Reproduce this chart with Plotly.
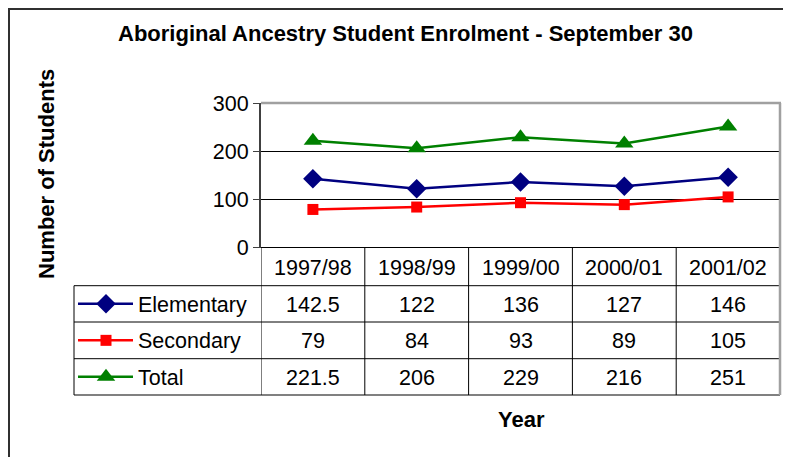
import plotly.graph_objects as go

years = ["1997/98", "1998/99", "1999/00", "2000/01", "2001/02"]
elementary = [142.5, 122, 136, 127, 146]
secondary = [79, 84, 93, 89, 105]
total = [221.5, 206, 229, 216, 251]

series_names = ["Elementary", "Secondary", "Total"]
series_values = [elementary, secondary, total]
series_colors = ["#000080", "#ff0000", "#008000"]
series_symbols = ["diamond", "square", "triangle-up"]
series_sizes = [15, 11, 16]

FONT = "Liberation Sans, Arial, sans-serif"

# the page body adds an 8px margin, so the figure is drawn 8px in from the window
OFF = 8
FW, FH = 791 - OFF, 457 - OFF


def px_x(x):
    return (x - OFF) / FW


def px_y(y):
    return 1 - (y - OFF) / FH


# plot area in window pixels
PL, PR, PT, PB = 261, 780, 103, 247.5
row_edges = [PB, 285.7, 322, 358.7, 395]
TABLE_LEFT = 74

fig = go.Figure()

for name, vals, col, sym, size in zip(series_names, series_values, series_colors,
                                      series_symbols, series_sizes):
    fig.add_trace(go.Scatter(
        x=years, y=vals, name=name, mode="lines+markers",
        line=dict(color=col, width=2.5),
        marker=dict(symbol=sym, size=size, color=col),
        cliponaxis=False, showlegend=False,
    ))

# legend keys inside the data table (pixel overlay axes)
for i, (col, sym, size) in enumerate(zip(series_colors, series_symbols, series_sizes)):
    yc = (row_edges[i + 1] + row_edges[i + 2]) / 2
    fig.add_trace(go.Scatter(
        x=[78, 106, 133], y=[yc, yc, yc], xaxis="x2", yaxis="y2",
        mode="lines", line=dict(color=col, width=2.5),
        hoverinfo="skip", showlegend=False,
    ))
    fig.add_trace(go.Scatter(
        x=[106], y=[yc], xaxis="x2", yaxis="y2",
        mode="markers", marker=dict(symbol=sym, size=size, color=col),
        hoverinfo="skip", showlegend=False,
    ))

shapes = []
line_black = dict(color="black", width=1)
# horizontal table lines
for y in row_edges[1:-1]:
    shapes.append(dict(type="line", xref="paper", yref="paper",
                       x0=px_x(TABLE_LEFT), x1=px_x(PR), y0=px_y(y), y1=px_y(y), line=line_black))
shapes.append(dict(type="line", xref="paper", yref="paper",
                   x0=px_x(TABLE_LEFT), x1=px_x(PR), y0=px_y(row_edges[-1]), y1=px_y(row_edges[-1]),
                   line=dict(color="#808080", width=2)))
shapes.append(dict(type="line", xref="paper", yref="paper",
                   x0=px_x(PL), x1=px_x(PR), y0=px_y(PB), y1=px_y(PB), line=line_black))
# vertical table lines at category boundaries
for i in range(len(years)):
    shapes.append(dict(type="line", xref="x", yref="paper",
                       x0=i - 0.5, x1=i - 0.5, y0=px_y(PB), y1=px_y(row_edges[-1]), line=line_black))
shapes.append(dict(type="line", xref="paper", yref="paper",
                   x0=px_x(TABLE_LEFT), x1=px_x(TABLE_LEFT), y0=px_y(row_edges[1]),
                   y1=px_y(row_edges[-1]), line=line_black))
# plot area border (gray top & right, continuing down the table)
shapes.append(dict(type="line", xref="paper", yref="paper",
                   x0=px_x(PL), x1=px_x(PR + 1), y0=px_y(PT), y1=px_y(PT),
                   line=dict(color="#a0a0a0", width=2.5)))
shapes.append(dict(type="line", xref="paper", yref="paper",
                   x0=px_x(PR), x1=px_x(PR), y0=px_y(PT), y1=px_y(row_edges[-1]),
                   line=dict(color="#a0a0a0", width=2.5)))
# outer chart frame (top edge pushed down to stay inside the figure)
shapes.append(dict(type="line", xref="paper", yref="paper",
                   x0=px_x(9), x1=px_x(9), y0=px_y(9), y1=0, line=dict(color="#303030", width=2)))
shapes.append(dict(type="line", xref="paper", yref="paper",
                   x0=px_x(8), x1=1, y0=px_y(9), y1=px_y(9), line=dict(color="#303030", width=2)))

annotations = []
tfont = dict(family=FONT, size=21.5, color="black")
hy = (row_edges[0] + row_edges[1]) / 2
for i, yr in enumerate(years):
    annotations.append(dict(x=i, y=px_y(hy + 1), xref="x", yref="paper", text=yr,
                            showarrow=False, font=tfont, xanchor="center", yanchor="middle"))
for r, (name, vals) in enumerate(zip(series_names, series_values)):
    yc = (row_edges[r + 1] + row_edges[r + 2]) / 2
    annotations.append(dict(x=px_x(136), y=px_y(yc + 1), xref="paper", yref="paper", text=name,
                            showarrow=False, font=tfont, xanchor="left", yanchor="middle"))
    for i, v in enumerate(vals):
        annotations.append(dict(x=i, y=px_y(yc + 1), xref="x", yref="paper", text=f"{v:g}",
                                showarrow=False, font=tfont, xanchor="center", yanchor="middle"))

annotations.append(dict(x=px_x(405), y=px_y(34), xref="paper", yref="paper",
                        text="<b>Aboriginal Ancestry Student Enrolment - September 30</b>",
                        showarrow=False, font=dict(family=FONT, size=22, color="black"),
                        xanchor="center", yanchor="middle"))
annotations.append(dict(x=px_x(46), y=px_y(174), xref="paper", yref="paper",
                        text="<b>Number of Students</b>", textangle=-90,
                        showarrow=False, font=dict(family=FONT, size=22, color="black"),
                        xanchor="center", yanchor="middle"))
annotations.append(dict(x=px_x(521), y=px_y(419), xref="paper", yref="paper",
                        text="<b>Year</b>",
                        showarrow=False, font=dict(family=FONT, size=22, color="black"),
                        xanchor="center", yanchor="middle"))

fig.update_layout(
    width=FW, height=FH,
    margin=dict(l=0, r=0, t=0, b=0, pad=0, autoexpand=False),
    paper_bgcolor="white", plot_bgcolor="rgba(0,0,0,0)",
    font=dict(family=FONT, size=21.5, color="black"),
    xaxis=dict(type="category", domain=[px_x(PL), px_x(PR)], range=[-0.5, len(years) - 0.5],
               showticklabels=False, showgrid=False, zeroline=False, ticks=""),
    yaxis=dict(domain=[px_y(PB), px_y(PT)], range=[0, 300], tickvals=[0, 100, 200, 300],
               showgrid=True, gridcolor="black", gridwidth=1, zeroline=False,
               showline=True, linecolor="#404040", linewidth=2,
               ticks="outside", ticklen=6, tickcolor="#404040", tickwidth=1,
               tickfont=dict(family=FONT, size=21.5, color="black")),
    xaxis2=dict(domain=[0, 1], range=[OFF, OFF + FW], visible=False, fixedrange=True, anchor="y2"),
    yaxis2=dict(domain=[0, 1], range=[OFF + FH, OFF], visible=False, fixedrange=True, anchor="x2"),
    shapes=shapes,
    annotations=annotations,
)

fig.write_html("out.html")
